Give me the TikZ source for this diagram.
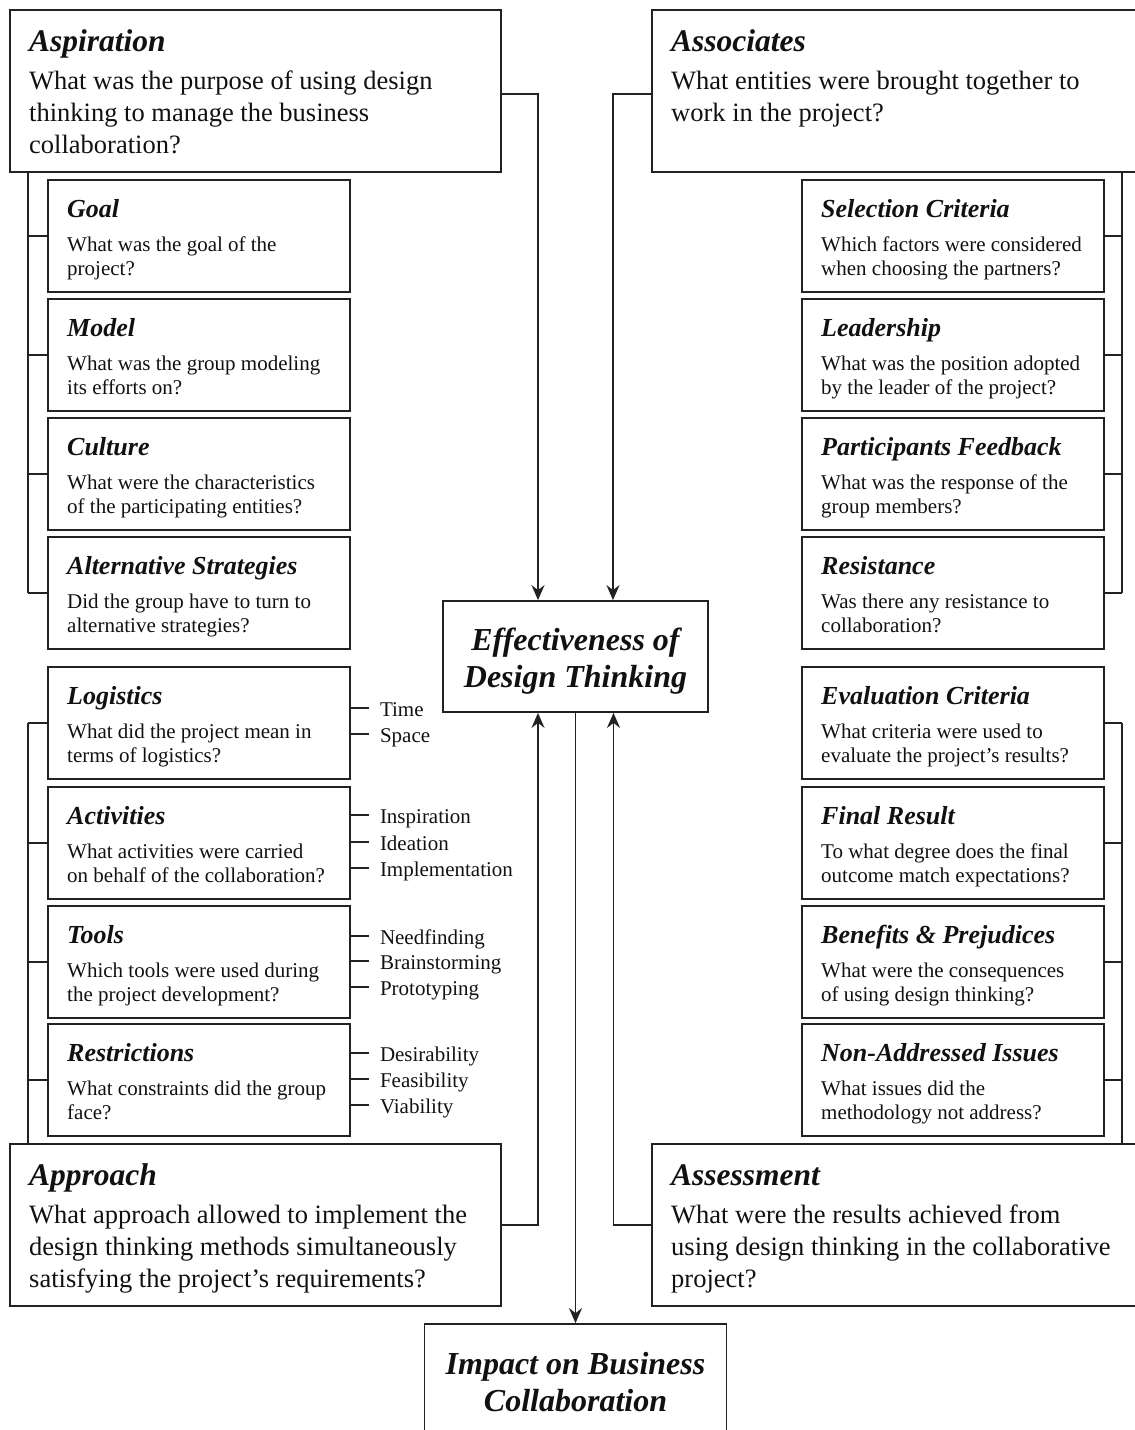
\documentclass[tikz,border=0pt]{standalone}
\usepackage{fontspec}
\setmainfont{Liberation Serif}
\usetikzlibrary{arrows.meta}
\definecolor{ln}{HTML}{222222}
\definecolor{tx}{HTML}{111111}
\tikzset{
 box/.style={draw=ln, line width=1.8pt, inner sep=0pt, anchor=north west},
 sbox/.style={box, minimum width=302pt, minimum height=112pt},
 bbox/.style={box, minimum height=162pt},
 shead/.style={anchor=base west, inner sep=0pt, text=tx, font=\fontsize{26}{30}\selectfont\bfseries\itshape},
 sbody/.style={anchor=base west, inner sep=0pt, text=tx, font=\fontsize{21}{24}\selectfont},
 bhead/.style={anchor=base west, inner sep=0pt, text=tx, font=\fontsize{31.5}{36}\selectfont\bfseries\itshape},
 bbody/.style={anchor=base west, inner sep=0pt, text=tx, font=\fontsize{26.5}{32}\selectfont},
 side/.style={anchor=base west, inner sep=0pt, text=tx, font=\fontsize{21}{26}\selectfont},
 conn/.style={draw=ln, line width=1.8pt},
 arr/.style={conn, -{Stealth[length=15pt,width=13pt,inset=5pt]}},
 cbox/.style={draw=ln, line width=1.8pt, align=center, inner sep=0pt, text=tx, font=\fontsize{32}{37}\selectfont\bfseries\itshape}
}
\newcommand\qbox[5]{%
  \node[sbox] (#1) at (#2,#3) {};
  \node[shead] (#1h) at ([shift={(20,38)}]#1.north west) {#4};
  \node[sbody] (#1b) at ([shift={(20,72)}]#1.north west) {\parbox[t]{400pt}{#5}};
}
\newcommand\bigq[6]{%
  \node[bbox, minimum width=#4pt] (#1) at (#2,#3) {};
  \node[bhead] (#1h) at ([shift={(20,42)}]#1.north west) {#5};
  \node[bbody] (#1b) at ([shift={(20,80)}]#1.north west) {\parbox[t]{600pt}{#6}};
}
\newcommand\tick[4]{%
  \draw[conn] ([yshift=-#2pt]#1.north east) -- ++(18,0) coordinate (#3);
  \node[side] (#3l) at ([shift={(11,8)}]#3) {#4};
}
\begin{document}
\begin{tikzpicture}[x=1pt, y=-1pt]
\useasboundingbox (0,0) rectangle (1135,1430);
\clip (0,0) rectangle (1135,1430);

% big boxes
\bigq{asp}{9}{9}{491}{Aspiration}{What was the purpose of using design\\thinking to manage the business\\collaboration?}
\bigq{asc}{651}{9}{510}{Associates}{What entities were brought together to\\work in the project?}
\bigq{app}{9}{1143}{491}{Approach}{What approach allowed to implement the\\design thinking methods simultaneously\\satisfying the project’s requirements?}
\bigq{ass}{651}{1143}{510}{Assessment}{What were the results achieved from\\using design thinking in the collaborative\\project?}

% left small boxes
\qbox{goal}{47}{179}{Goal}{What was the goal of the\\project?}
\qbox{model}{47}{298}{Model}{What was the group modeling\\its efforts on?}
\qbox{cult}{47}{417}{Culture}{What were the characteristics\\of the participating entities?}
\qbox{alt}{47}{536}{Alternative Strategies}{Did the group have to turn to\\alternative strategies?}
\qbox{logi}{47}{666}{Logistics}{What did the project mean in\\terms of logistics?}
\qbox{acti}{47}{786}{Activities}{What activities were carried\\on behalf of the collaboration?}
\qbox{tool}{47}{905}{Tools}{Which tools were used during\\the project development?}
\qbox{rest}{47}{1023}{Restrictions}{What constraints did the group\\face?}

% right small boxes
\qbox{sel}{801}{179}{Selection Criteria}{Which factors were considered\\when choosing the partners?}
\qbox{lead}{801}{298}{Leadership}{What was the position adopted\\by the leader of the project?}
\qbox{part}{801}{417}{Participants Feedback}{What was the response of the\\group members?}
\qbox{resi}{801}{536}{Resistance}{Was there any resistance to\\collaboration?}
\qbox{eval}{801}{666}{Evaluation Criteria}{What criteria were used to\\evaluate the project’s results?}
\qbox{fin}{801}{786}{Final Result}{To what degree does the final\\outcome match expectations?}
\qbox{ben}{801}{905}{Benefits \& Prejudices}{What were the consequences\\of using design thinking?}
\qbox{non}{801}{1023}{Non-Addressed Issues}{What issues did the\\methodology not address?}

% centre boxes
\node[cbox, minimum width=265pt, minimum height=111pt] (eff) at (575.5,656.5)
  {\raisebox{-5pt}[\height][\depth]{\begin{tabular}{@{}c@{}}Effectiveness of\\Design Thinking\end{tabular}}};
\node[cbox, minimum width=302pt, minimum height=116pt] (imp) at (575.5,1382) {Impact on Business\\Collaboration};

% brackets
\coordinate (lx) at (28,0);
\coordinate (rx) at (1122,0);
\draw[conn] (lx |- asp.south) -- (lx |- alt.west);
\foreach \b in {goal,model,cult,alt}{\draw[conn] (\b.west) -- (lx |- \b.west);}
\draw[conn] (lx |- logi.west) -- (lx |- app.north);
\foreach \b in {logi,acti,tool,rest}{\draw[conn] (\b.west) -- (lx |- \b.west);}
\draw[conn] (rx |- asc.south) -- (rx |- resi.east);
\foreach \b in {sel,lead,part,resi}{\draw[conn] (\b.east) -- (rx |- \b.east);}
\draw[conn] (rx |- eval.east) -- (rx |- ass.north);
\foreach \b in {eval,fin,ben,non}{\draw[conn] (\b.east) -- (rx |- \b.east);}

% side ticks
\tick{logi}{42}{tTime}{Time}
\tick{logi}{68}{tSpace}{Space}
\tick{acti}{29}{tInsp}{Inspiration}
\tick{acti}{56}{tIdea}{Ideation}
\tick{acti}{82}{tImpl}{Implementation}
\tick{tool}{31}{tNeed}{Needfinding}
\tick{tool}{56}{tBrain}{Brainstorming}
\tick{tool}{82}{tProto}{Prototyping}
\tick{rest}{30}{tDes}{Desirability}
\tick{rest}{56}{tFeas}{Feasibility}
\tick{rest}{82}{tVia}{Viability}

% connectors to centre
\draw[arr] ([yshift=-3pt]asp.east) -| ([xshift=-37.5pt]eff.north);
\draw[arr] ([yshift=-3pt]asc.west) -| ([xshift=37.5pt]eff.north);
\draw[arr] (app.east) -| ([xshift=-37.5pt]eff.south);
\draw[arr] (ass.west) -| ([xshift=38pt]eff.south);
\draw[arr] (eff.south) -- (imp.north);
\end{tikzpicture}
\end{document}
